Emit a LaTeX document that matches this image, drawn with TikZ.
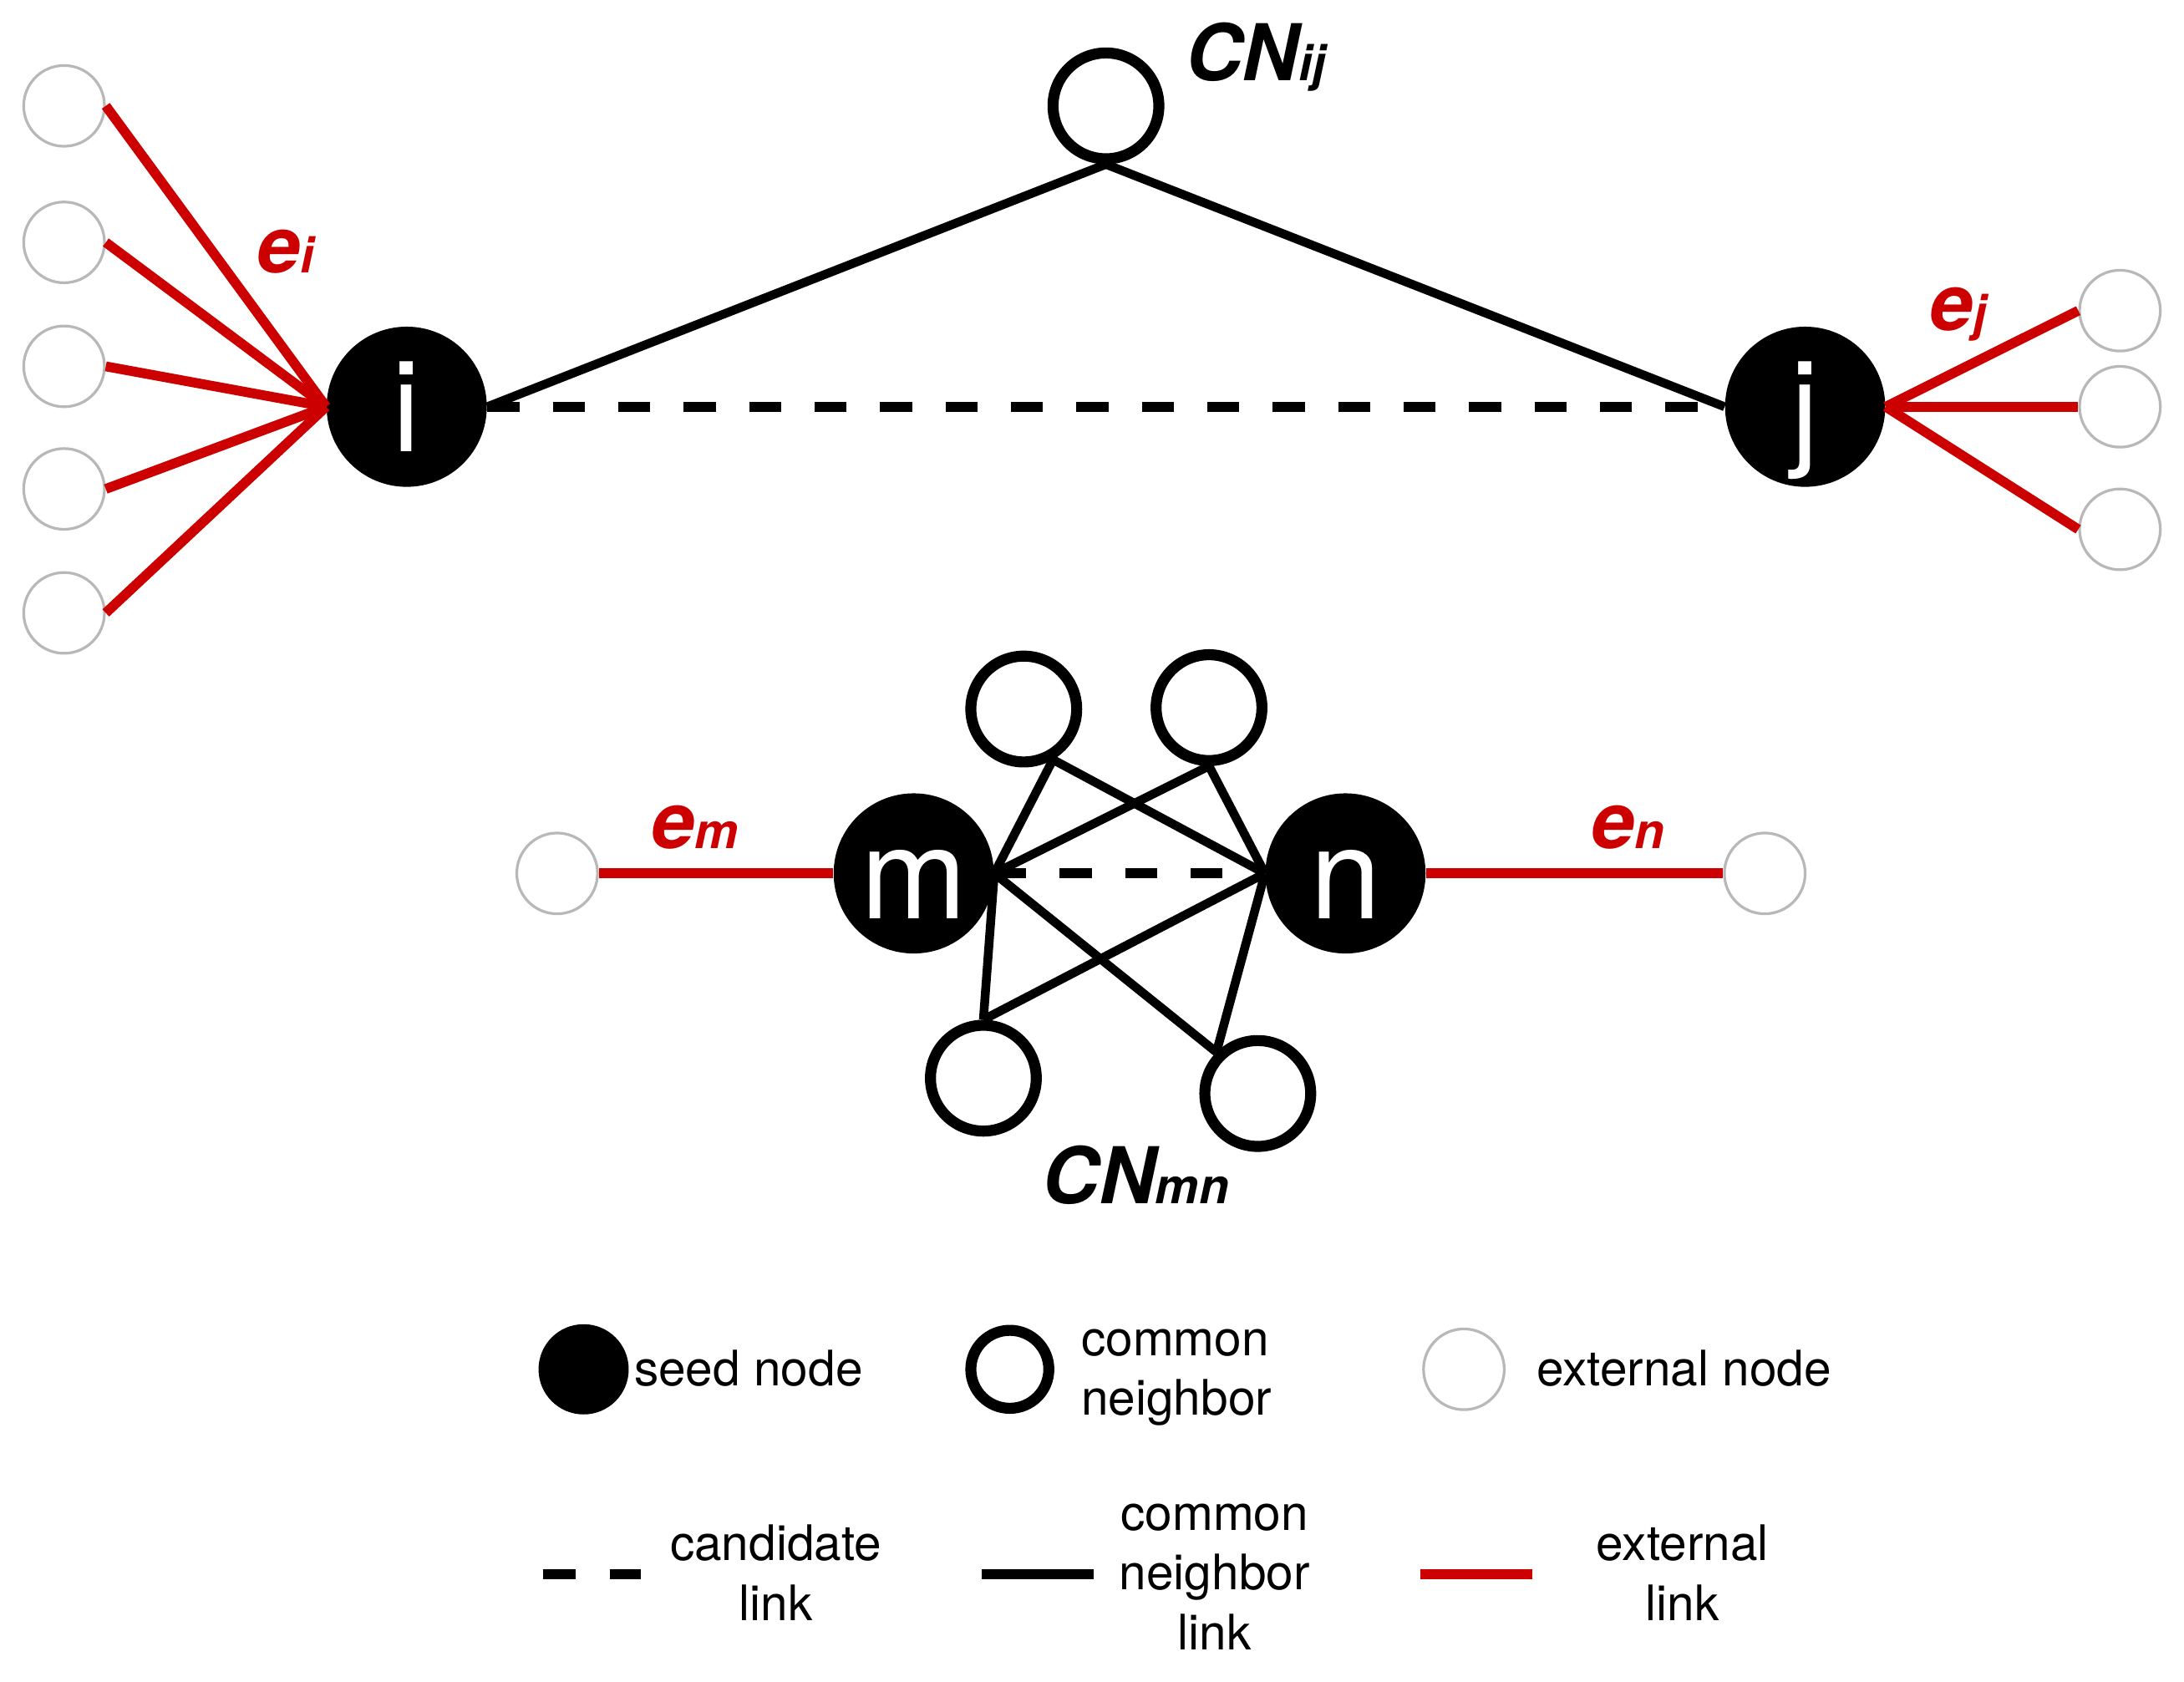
\documentclass[tikz,border=0pt]{standalone}
\usepackage{fontspec}
\setmainfont{TeX Gyre Heros}
\definecolor{linkred}{HTML}{CC0000}
\definecolor{extgray}{HTML}{B8B8B8}
\newcommand{\lblsub}[1]{{\fontsize{20}{20}\selectfont #1}}

\begin{document}
\begin{tikzpicture}[x=0.02cm, y=-0.02cm,
    seed/.style={circle, fill=black, inner sep=0pt, minimum size=2.3cm, text=white, font=\fontsize{52}{52}\selectfont, text height=37pt, text depth=0pt},
    common/.style={circle, draw=black, line width=4.5pt, inner sep=0pt, minimum size=1.52cm},
    extnode/.style={circle, draw=extgray, line width=1.1pt, inner sep=0pt, minimum size=1.16cm},
    cnlink/.style={line width=3.6pt},
    extlink/.style={draw=linkred, line width=4pt},
    candlink/.style={line width=4pt, dash pattern=on 0.46cm off 0.48cm},
    lbl/.style={font=\fontsize{32}{32}\selectfont\bfseries\itshape, inner sep=0pt, anchor=base west},
    legend/.style={font=\fontsize{20}{24.4}\selectfont, inner sep=0pt}]
        \useasboundingbox (0,0) rectangle (1568,1207);

        \node[seed] (i) at (292,292) {i};
        \node[seed] (j) at (1296,292) {j};
        \node[common] (cnij) at (794,76) {};
        \node[lbl] (cnijlabel) at (851,58) {CN\lblsub{ij}};
        \node[extnode] (ei1) at (46,76) {};
        \node[extnode] (ei2) at (46,174) {};
        \node[extnode] (ei3) at (46,263) {};
        \node[extnode] (ei4) at (46,351) {};
        \node[extnode] (ei5) at (46,440) {};
        \node[extnode] (ej1) at (1522,223) {};
        \node[extnode] (ej2) at (1522,292) {};
        \node[extnode] (ej3) at (1522,380) {};
        \node[lbl, text=linkred] (eilabel) at (184,196) {e\lblsub{i}};
        \node[lbl, text=linkred] (ejlabel) at (1385,237) {e\lblsub{j}};
        \draw[extlink] (i.west) edge (ei1.east) edge (ei2.east) edge (ei3.east) edge (ei4.east) edge (ei5.east);
        \draw[extlink] (j.east) edge (ej1.west) edge (ej2.west) edge (ej3.west);
        \draw[cnlink] (cnij.south) edge (i.east) edge (j.west);
        \draw[candlink] (i.east) -- (j.west);

        \node[seed] (m) at (656,627) {m};
        \node[seed] (n) at (966,627) {n};
        \node[common] (cn1) at (735,509) {};
        \node[common] (cn2) at (868,508) {};
        \node[common] (cn3) at (706,774) {};
        \node[common] (cn4) at (903,785) {};
        \node[lbl] (cnmnlabel) at (748,864) {CN\lblsub{mn}};
        \node[extnode] (em1) at (400,627) {};
        \node[extnode] (en1) at (1267,627) {};
        \node[lbl, text=linkred] (emlabel) at (467,609) {e\lblsub{m}};
        \node[lbl, text=linkred] (enlabel) at (1142,609) {e\lblsub{n}};
        \draw[extlink] (m.west) -- (em1.east);
        \draw[extlink] (n.east) -- (en1.west);
        \draw[cnlink] (cn1.-60) edge (m.east) edge (n.west);
        \draw[cnlink] (cn2.south) edge (m.east) edge (n.west);
        \draw[cnlink] (cn3.north) edge (m.east) edge (n.west);
        \draw[cnlink] (cn4.north west) edge (m.east) edge (n.west);
        \draw[candlink] (m.east) -- (n.west);

        \node[seed, minimum size=1.12cm] (seedkey) at (419,983) {};
        \node[legend, anchor=base west] (seedtext) at (455,995) {seed node};
        \node[common, minimum size=1.12cm] (cnkey) at (725,983) {};
        \node[legend, anchor=west, align=left] (cntext) at (776,989) {common\\neighbor};
        \node[extnode] (extkey) at (1051,983) {};
        \node[legend, anchor=base west] (exttext) at (1103,995) {external node};
        \coordinate (candA) at (390,1130);
        \coordinate (candB) at (460,1130);
        \draw[candlink, dash pattern=on 0.46cm off 0.5cm] (candA) -- (candB);
        \node[legend, align=center] (candtext) at (557,1129) {candidate\\link};
        \coordinate (cnlA) at (705,1130);
        \coordinate (cnlB) at (785,1130);
        \draw[cnlink, line width=4.1pt] (cnlA) -- (cnlB);
        \node[legend, align=center] (cnltext) at (872,1132) {common\\neighbor\\link};
        \coordinate (extA) at (1020,1130);
        \coordinate (extB) at (1100,1130);
        \draw[extlink] (extA) -- (extB);
        \node[legend, align=center] (extltext) at (1208,1129) {external\\link};
\end{tikzpicture}
\end{document}
